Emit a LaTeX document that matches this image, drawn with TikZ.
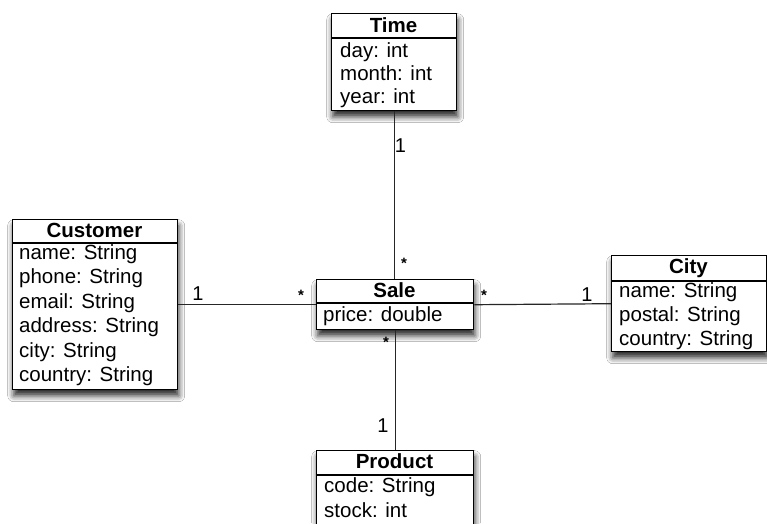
\documentclass[tikz,border=0pt]{standalone}
\usepackage{fontspec}
\setmainfont{Liberation Sans}
\usetikzlibrary{shadows.blur}
\begin{document}
\begin{tikzpicture}[x=1pt,y=-1pt,
  umlbox/.style={draw=black, line width=1.4pt, fill=white, anchor=north west, inner sep=0pt,
     blur shadow={shadow xshift=1pt, shadow yshift=-6pt, shadow blur radius=6pt, shadow opacity=85}},
  sep/.style={line width=1.2pt},
  conn/.style={line width=1.2pt, draw=black!85},
  attr/.style={anchor=base west, inner sep=0pt, font=\fontsize{20.5}{24}\selectfont},
  ttl/.style={anchor=base, inner sep=0pt, font=\fontsize{20.5}{24}\selectfont\bfseries},
  mult/.style={anchor=base, inner sep=0pt, font=\fontsize{20}{24}\selectfont},
  star/.style={anchor=center, inner sep=0pt, font=\fontsize{15}{16}\selectfont\bfseries}]
\useasboundingbox[fill=white] (0,0) rectangle (767,523);

% Time
\node[umlbox, minimum width=125pt, minimum height=97pt] (time) at (331,13) {};
\draw[sep] (331,38) -- (456,38);
\node[ttl] (timet) at (393.5,32) {Time};
\node[attr] (time1) at (340,57) {day: int};
\node[attr] (time2) at (340,80) {month: int};
\node[attr] (time3) at (340,103) {year: int};

% Customer
\node[umlbox, minimum width=165pt, minimum height=170pt] (cust) at (12,219) {};
\draw[sep] (12,243) -- (177,243);
\node[ttl] (custt) at (94.5,237) {Customer};
\node[attr] (cust1) at (19,259) {name: String};
\node[attr] (cust2) at (19,283.5) {phone: String};
\node[attr] (cust3) at (19,308) {email: String};
\node[attr] (cust4) at (19,332.5) {address: String};
\node[attr] (cust5) at (19,357) {city: String};
\node[attr] (cust6) at (19,381.5) {country: String};

% Sale
\node[umlbox, minimum width=157pt, minimum height=50pt] (sale) at (316,279) {};
\draw[sep] (316,303) -- (473,303);
\node[ttl] (salet) at (394.5,297) {Sale};
\node[attr] (sale1) at (323,321.5) {price: double};

% City
\node[umlbox, minimum width=155pt, minimum height=96pt] (city) at (611,255) {};
\draw[sep] (611,281) -- (766,281);
\node[ttl] (cityt) at (688.5,273) {City};
\node[attr] (city1) at (619,297) {name: String};
\node[attr] (city2) at (619,321) {postal: String};
\node[attr] (city3) at (619,345) {country: String};

% Product
\node[umlbox, minimum width=157pt, minimum height=85pt] (prod) at (316,450) {};
\draw[sep] (316,475) -- (473,475);
\node[ttl] (prodt) at (394.5,468) {Product};
\node[attr] (prod1) at (324,492) {code: String};
\node[attr] (prod2) at (324,517) {stock: int};

% connectors
\draw[conn] (time.south) -- (time.south |- sale.north);
\draw[conn] (cust.east) -- (sale.west);
\draw[conn] (sale.east) -- (city.west);
\draw[conn] (sale.south) -- (prod.north);

% multiplicities
\node[mult] (m1) at (400.5,152) {1};
\node[star] (s1) at (404,263) {*};
\node[mult] (m2) at (198,300) {1};
\node[star] (s2) at (301,295) {*};
\node[star] (s3) at (484,295) {*};
\node[mult] (m3) at (587,301) {1};
\node[star] (s4) at (386,342) {*};
\node[mult] (m4) at (383,432) {1};
\end{tikzpicture}
\end{document}
